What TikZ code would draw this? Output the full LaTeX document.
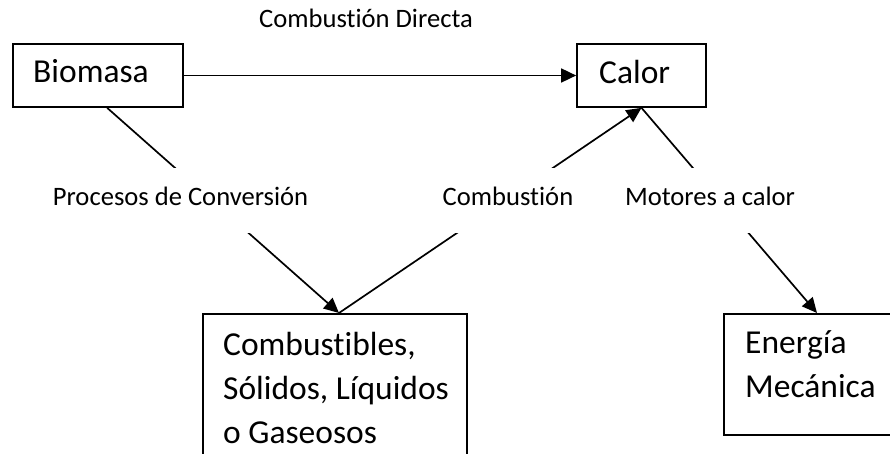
\documentclass[tikz,border=0pt]{standalone}
\usepackage{fontspec}
\setmainfont[Ligatures=NoCommon]{Carlito}
\usetikzlibrary{arrows.meta,calc}

\tikzset{
  box/.style={draw, line width=1.7pt, rectangle, inner sep=0pt},
  boxtext/.style={inner sep=0pt, anchor=base west, align=left,
    font=\fontsize{33.5}{44}\selectfont},
  link/.style={line width=1.7pt},
  flow/.style={link, -{Triangle[length=15pt,width=14pt]}},
  tag/.style={fill=white, inner xsep=5pt, inner ysep=0pt, anchor=base,
    text height=37pt, text depth=28pt, font=\fontsize{26.6}{30}\selectfont},
  toptag/.style={inner sep=0pt, anchor=base, font=\fontsize{26.6}{30}\selectfont}
}

\begin{document}
\begin{tikzpicture}[x=1pt, y=-1pt]
  \useasboundingbox (0,0) rectangle (890,454);
  \clip (0,0) rectangle (890,454);

  % boxes
  \node[box, minimum width=170pt, minimum height=63pt] (biomasa) at (98,75.5) {};
  \node[box, minimum width=129pt, minimum height=63pt] (calor) at (641.5,75.5) {};
  \node[box, anchor=north west, minimum width=264pt, minimum height=170pt] (comb) at (202,313) {};
  \node[box, anchor=north west, minimum width=200pt, minimum height=121pt] (mec) at (723,313) {};

  % box texts (multi-line nodes are placed by their last baseline)
  \node[boxtext] (tbiomasa) at (33,83) {Biomasa};
  \node[boxtext] (tcalor) at (599,84) {Calor};
  \node[boxtext] (tcomb) at (223,443) {Combustibles,\\Sólidos, Líquidos\\o Gaseosos};
  \node[boxtext] (tmec) at (745,397) {Energía\\Mecánica};

  % connectors
  \coordinate (bout) at ($(biomasa.south west)+(95,0)$);
  \coordinate (cin) at ($(comb.north west)+(137,0)$);
  \coordinate (min) at ($(mec.north west)+(94,0)$);

  \draw[flow] (biomasa.east) -- (calor.west);
  \draw[flow] (bout) -- (cin);
  \draw[flow] (cin) -- (calor.south);
  \draw[flow] (calor.south) -- (min);

  % labels
  \node[toptag] (ldirecta) at (366,28) {Combustión Directa};
  \node[tag] (lproc) at (180.5,205) {Procesos de Conversión};
  \node[tag] (lcomb) at (508,205) {Combustión};
  \node[tag] (lmot) at (710,205) {Motores a calor};
\end{tikzpicture}
\end{document}
